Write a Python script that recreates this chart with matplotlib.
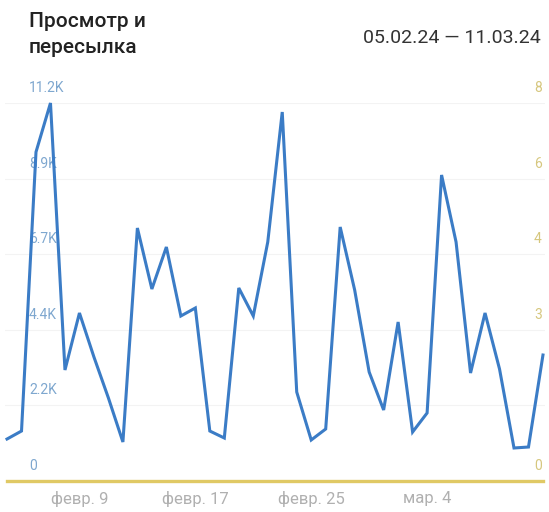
import numpy as np
import pandas as pd
import matplotlib
matplotlib.use('Agg')
import matplotlib.pyplot as plt
import matplotlib.transforms as mtransforms

plt.rcParams['font.family'] = ['Roboto', 'DejaVu Sans']

# данные
days = pd.date_range('2024-02-04', '2024-03-12', freq='D')
views = [1244, 1481, 9748, 11200, 3289, 4978, 3674, 2459, 1156, 7496,
         5689, 6933, 4889, 5126, 1481, 1274, 5719, 4889, 7081, 10933,
         2637, 1215, 1541, 7526, 5659, 3230, 2104, 4711, 1452, 2015,
         9067, 7081, 3200, 4978, 3319, 978, 1007, 3733]
shares = [0] * len(views)

left_ticks = [0, 2240, 4480, 6720, 8960, 11200]
left_labels = ['0', '2.2K', '4.4K', '6.7K', '8.9K', '11.2K']
right_ticks = [0, 1.6, 3.2, 4.8, 6.4, 8]
right_labels = ['0', '', '3', '4', '6', '8']
x_tick_dates = pd.to_datetime(['2024-02-09', '2024-02-17', '2024-02-25', '2024-03-04'])
x_tick_labels = ['февр. 9', 'февр. 17', 'февр. 25', 'мар. 4']

title = 'Просмотр и\nпересылка'
period = '05.02.24 — 11.03.24'

blue = '#3b7cc6'
yellow = '#e0c965'

W, H = 549, 512
fig = plt.figure(figsize=(W / 100, H / 100), dpi=100)
ax = fig.add_axes([5 / W, (H - 481) / H, 540 / W, 378 / H])
ax2 = ax.twinx()

ax.plot(days, views, color=blue, linewidth=2.2, clip_on=False, zorder=3,
        solid_joinstyle='miter')
ax2.plot(days, shares, color=yellow, linewidth=2.4, clip_on=False, zorder=2)

step = (days[-1] - days[0]) / 37
ax.set_xlim(days[0] - step * 0.14, days[-1] + step * 0.14)
ax.set_ylim(0, 11200)
ax2.set_ylim(0, 8)
ax.set_zorder(ax2.get_zorder() + 1)
ax.patch.set_visible(False)

for a in (ax, ax2):
    for s in a.spines.values():
        s.set_visible(False)
    a.set_yticks([])

for t in left_ticks[1:]:
    ax.axhline(t, color='#f3f3f3', linewidth=0.8, zorder=0)

# подписи осей внутри графика
off = mtransforms.ScaledTranslation(0, 15 / 100, fig.dpi_scale_trans)
tl = mtransforms.blended_transform_factory(fig.transFigure, ax.transData) + off
for t, lab in zip(left_ticks, left_labels):
    ax.text(29 / W, t, lab, transform=tl, ha='left', va='center',
            fontsize=10, color='#7ea7cf', zorder=1)
tr = mtransforms.blended_transform_factory(fig.transFigure, ax2.transData) + off
for t, lab in zip(right_ticks, right_labels):
    ax2.text(542 / W, t, lab, transform=tr, ha='right', va='center',
             fontsize=10, color='#d6c77e', zorder=1)

ax.set_xticks(x_tick_dates)
ax.set_xticklabels(x_tick_labels, fontsize=12, color='#b0b0b0')
ax.tick_params(axis='x', length=0, pad=7)

fig.text(29 / W, 1 - 12 / H, title, ha='left', va='top', fontsize=15,
         fontweight='medium', color='#222222', linespacing=1.45)
fig.text(541 / W, 1 - 38 / H, period, ha='right', va='center',
         fontsize=14, color='#333333')

fig.savefig('out.png', dpi=100)
